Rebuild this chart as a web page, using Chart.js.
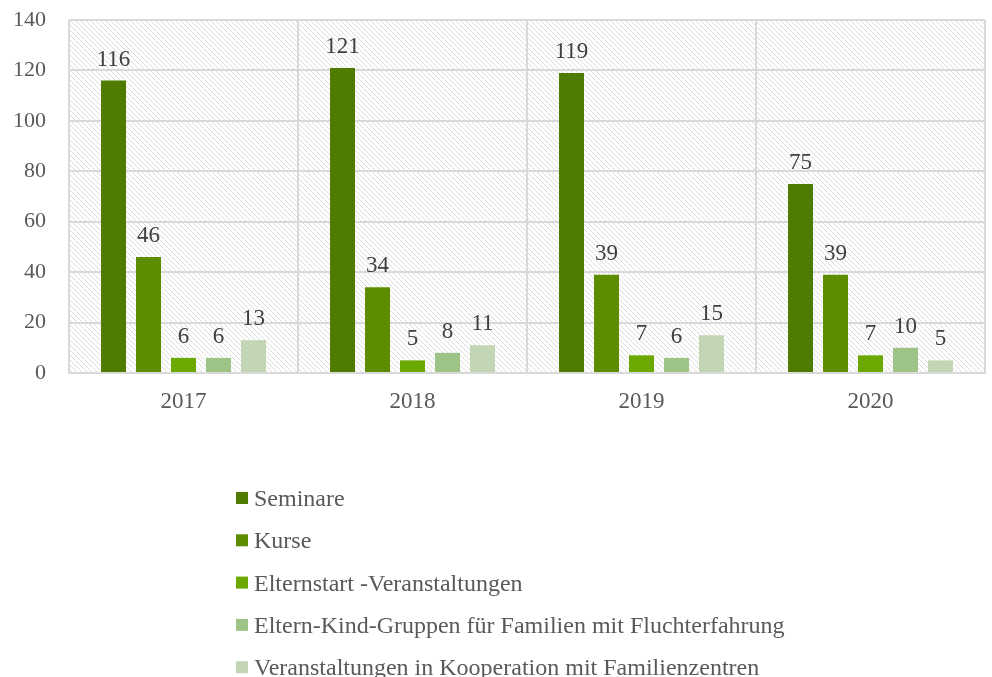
<!DOCTYPE html>
<html>
<head>
<meta charset="utf-8">
<script src="https://cdn.jsdelivr.net/npm/chart.js@4.4.0/dist/chart.umd.min.js"></script>
<style>
  html, body { margin: 0; padding: 0; background: #fff; }
  #wrap { width: 992px; height: 677px; }
</style>
</head>
<body>
<div id="wrap"><canvas id="chart"></canvas></div>
<script>
const years = ['2017', '2018', '2019', '2020'];
const seriesNames = [
  'Seminare',
  'Kurse',
  'Elternstart -Veranstaltungen',
  'Eltern-Kind-Gruppen für Familien mit Fluchterfahrung',
  'Veranstaltungen in Kooperation mit Familienzentren'
];
const seminare = [116, 121, 119, 75];
const kurse = [46, 34, 39, 39];
const elternstart = [6, 5, 7, 7];
const elternKind = [6, 8, 6, 10];
const kooperation = [13, 11, 15, 5];
const colors = ['#4e7b00', '#5e8c00', '#6ba800', '#9dc387', '#c2d6b5'];
const yTicks = [0, 20, 40, 60, 80, 100, 120, 140];

const serif = "'Liberation Serif', 'Times New Roman', serif";

// diagonal hatch behind the bars
function makeHatch() {
  const c = document.createElement('canvas');
  c.width = 5; c.height = 5;
  const g = c.getContext('2d');
  g.fillStyle = '#ffffff';
  g.fillRect(0, 0, 5, 5);
  g.strokeStyle = '#dcdcdc';
  g.lineWidth = 1;
  g.beginPath();
  g.moveTo(-1, -1); g.lineTo(6, 6);
  g.moveTo(-1, 4); g.lineTo(1, 6);
  g.moveTo(4, -1); g.lineTo(6, 1);
  g.stroke();
  return g.createPattern(c, 'repeat');
}

const hatchPlugin = {
  id: 'hatch',
  beforeDraw(chart) {
    const a = chart.chartArea;
    const ctx = chart.ctx;
    ctx.save();
    ctx.fillStyle = makeHatch();
    ctx.fillRect(a.left, a.top, a.right - a.left, a.bottom - a.top);
    ctx.restore();
  }
};

const valueLabels = {
  id: 'valueLabels',
  afterDatasetsDraw(chart) {
    const ctx = chart.ctx;
    ctx.save();
    ctx.font = '23px ' + serif;
    ctx.fillStyle = '#404040';
    ctx.textAlign = 'center';
    ctx.textBaseline = 'alphabetic';
    chart.data.datasets.forEach((ds, i) => {
      chart.getDatasetMeta(i).data.forEach((bar, j) => {
        ctx.fillText(String(ds.data[j]), bar.x, bar.y - 15);
      });
    });
    ctx.restore();
  }
};

const listLegend = {
  id: 'listLegend',
  afterDraw(chart) {
    const ctx = chart.ctx;
    ctx.save();
    ctx.font = '24px ' + serif;
    ctx.textBaseline = 'alphabetic';
    ctx.textAlign = 'left';
    chart.data.datasets.forEach((ds, i) => {
      const y = i * 42.3;
      ctx.fillStyle = ds.backgroundColor;
      ctx.fillRect(236, 492 + y, 12, 12);
      ctx.fillStyle = '#595959';
      ctx.fillText(ds.label, 254, 506 + y);
    });
    ctx.restore();
  }
};

const allSeries = [seminare, kurse, elternstart, elternKind, kooperation];

new Chart(document.getElementById('chart'), {
  type: 'bar',
  data: {
    labels: years,
    datasets: allSeries.map((vals, i) => ({
      label: seriesNames[i],
      data: vals,
      backgroundColor: colors[i],
      categoryPercentage: 0.764,
      barPercentage: 0.714
    }))
  },
  options: {
    responsive: true,
    maintainAspectRatio: false,
    animation: false,
    layout: { padding: { left: 0, right: 7, top: 20, bottom: 0 } },
    plugins: {
      legend: { display: false },
      tooltip: { enabled: false }
    },
    scales: {
      x: {
        afterFit(axis) { axis.height = 304; axis.paddingLeft = 0; axis.paddingRight = 0; },
        grid: { color: '#d9d9d9', lineWidth: 2, drawTicks: false },
        border: { color: '#d9d9d9', width: 2 },
        ticks: { color: '#595959', font: { family: serif, size: 23 }, padding: 15 }
      },
      y: {
        min: 0,
        max: 140,
        afterBuildTicks(axis) { axis.ticks = yTicks.map(v => ({ value: v })); },
        afterFit(axis) { axis.width = 69; axis.paddingTop = 0; axis.paddingBottom = 0; },
        grid: { color: '#d9d9d9', lineWidth: 2, drawTicks: false },
        border: { display: false },
        ticks: { color: '#595959', font: { family: serif, size: 22 }, padding: 23 }
      }
    }
  },
  plugins: [hatchPlugin, valueLabels, listLegend]
});
</script>
</body>
</html>
